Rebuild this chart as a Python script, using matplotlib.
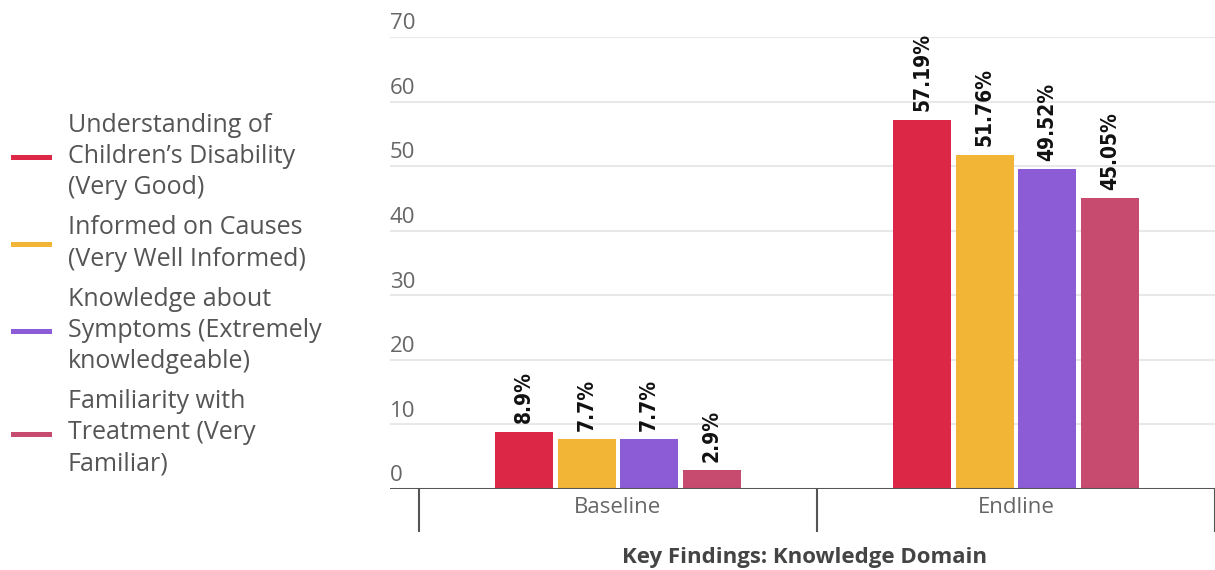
import matplotlib
matplotlib.use("Agg")
import matplotlib.pyplot as plt
import numpy as np

# Data
categories = ["Baseline", "Endline"]
series_labels = [
    "Understanding of\nChildren’s Disability\n(Very Good)",
    "Informed on Causes\n(Very Well Informed)",
    "Knowledge about\nSymptoms (Extremely\nknowledgeable)",
    "Familiarity with\nTreatment (Very\nFamiliar)",
]
understanding = [8.9, 57.19]
informed = [7.7, 51.76]
knowledge = [7.7, 49.52]
familiarity = [2.9, 45.05]
value_labels = [["8.9%", "57.19%"], ["7.7%", "51.76%"], ["7.7%", "49.52%"], ["2.9%", "45.05%"]]
y_ticks = [0, 10, 20, 30, 40, 50, 60, 70]
title = "Key Findings: Knowledge Domain"

colors = ["#DC2846", "#F2B535", "#8B5CD6", "#C64B6E"]
series = [understanding, informed, knowledge, familiarity]

plt.rcParams['font.family'] = ['Open Sans', 'DejaVu Sans']

fig = plt.figure(figsize=(12.15, 5.7), dpi=100)
ax = fig.add_axes([390 / 1215, 81 / 570, 825 / 1215, 452 / 570])

x = np.arange(len(categories))
step = 0.157
width = 0.146
handles = []
for i, (vals, col) in enumerate(zip(series, colors)):
    pos = x + (i - 1.5) * step
    bars = ax.bar(pos, vals, width=width, color=col, zorder=3)
    handles.append(plt.Line2D([], [], color=col, lw=3.6))
    for b, txt in zip(bars, value_labels[i]):
        ax.annotate(txt, (b.get_x() + b.get_width() / 2, b.get_height()),
                    xytext=(0, 6), textcoords="offset points",
                    rotation=90, ha="center", va="bottom",
                    fontsize=15, fontweight="bold", color="#111111",
                    family="DejaVu Sans", fontstretch="condensed")

ax.set_xlim(-0.5 - 29 / 398, 1.5)
ax.set_ylim(0, 70)

# gridlines and y labels sitting above the lines
for t in y_ticks[1:]:
    ax.axhline(t, color="#e8e8e8", lw=1.5, zorder=1)
for t in y_ticks:
    ax.annotate(str(t), (0.0, t), xycoords=ax.get_yaxis_transform(),
                xytext=(0, 2), textcoords="offset points",
                ha="left", va="bottom", fontsize=16, color="#666666",
                annotation_clip=False)

ax.axhline(0, color="#555555", lw=2.2, zorder=4)

for s in ax.spines.values():
    s.set_visible(False)
ax.set_yticks([])
ax.set_xticks(x)
ax.set_xticklabels(categories, fontsize=16, color="#666666")
ax.tick_params(axis="x", which="major", length=0, pad=6)
ax.set_xticks([-0.5, 0.5, 1.5], minor=True)
ax.tick_params(axis="x", which="minor", length=31, width=1.5, color="#555555")

fig.text(805 / 1215, 12 / 570, title, ha="center", va="center",
         fontsize=16, fontweight="bold", color="#444444")

leg = fig.legend(handles, series_labels, loc="center left",
                 bbox_to_anchor=(13 / 1215, 0.483), frameon=False, fontsize=18,
                 labelcolor="#555555", handlelength=1.45, handletextpad=0.75,
                 labelspacing=0.6, borderaxespad=0.0, borderpad=0.0)
for t in leg.get_texts():
    t.set_linespacing(1.33)

fig.savefig("out.png", dpi=100)
